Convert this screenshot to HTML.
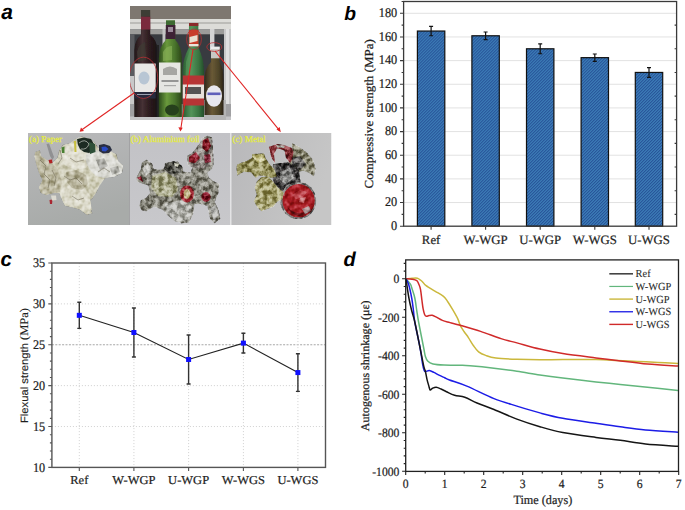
<!DOCTYPE html><html><head><meta charset="utf-8"><style>html,body{margin:0;padding:0;background:#fff;overflow:hidden}svg{display:block;text-rendering:geometricPrecision}</style></head><body>
<svg width="685" height="510" viewBox="0 0 685 510">
<defs><pattern id="hatch" patternUnits="userSpaceOnUse" width="2.12" height="2.12" patternTransform="rotate(45)"><rect width="2.12" height="2.12" fill="#3b7bb5"/><rect width="0.95" height="2.12" fill="#28559a"/></pattern></defs>
<rect width="685" height="510" fill="#fff"/>
<g id="pa">
<defs>
<filter id="tx1" x="-5%" y="-5%" width="110%" height="110%" color-interpolation-filters="sRGB">
 <feTurbulence type="fractalNoise" baseFrequency="0.22" numOctaves="3" seed="4" result="n"/>
 <feColorMatrix in="n" type="matrix" values="2.6 0 0 0 -0.8 2.6 0 0 0 -0.8 2.6 0 0 0 -0.8 0 0 0 0 1" result="g"/>
 <feBlend in="g" in2="SourceGraphic" mode="soft-light" result="b"/>
 <feComposite in="b" in2="SourceAlpha" operator="in"/>
</filter>
<filter id="tx2" x="-5%" y="-5%" width="110%" height="110%" color-interpolation-filters="sRGB">
 <feTurbulence type="fractalNoise" baseFrequency="0.2" numOctaves="2" seed="9" result="n"/>
 <feColorMatrix in="n" type="matrix" values="1.5 0 0 0 -0.25 1.5 0 0 0 -0.25 1.5 0 0 0 -0.25 0 0 0 0 1" result="g"/>
 <feBlend in="g" in2="SourceGraphic" mode="soft-light" result="b"/>
 <feComposite in="b" in2="SourceAlpha" operator="in"/>
</filter>
<linearGradient id="bgA" x1="0" y1="0" x2="0.3" y2="1"><stop offset="0" stop-color="#b9b9bb"/><stop offset="1" stop-color="#a8aba9"/></linearGradient>
<linearGradient id="bgB" x1="0" y1="0" x2="0" y2="1"><stop offset="0" stop-color="#c2c2c6"/><stop offset="1" stop-color="#c8c8cb"/></linearGradient>
<linearGradient id="bgC" x1="0" y1="0" x2="1" y2="0.3"><stop offset="0" stop-color="#b8b8ba"/><stop offset="1" stop-color="#c6c6c6"/></linearGradient>
<linearGradient id="gb1" x1="0" y1="0" x2="1" y2="0"><stop offset="0" stop-color="#201618"/><stop offset="0.35" stop-color="#463234"/><stop offset="0.6" stop-color="#301f22"/><stop offset="1" stop-color="#180f10"/></linearGradient>
<linearGradient id="gb2" x1="0" y1="0" x2="1" y2="0"><stop offset="0" stop-color="#2c4a1c"/><stop offset="0.35" stop-color="#6a9a3c"/><stop offset="0.7" stop-color="#4a742c"/><stop offset="1" stop-color="#2a4418"/></linearGradient>
<linearGradient id="gb3" x1="0" y1="0" x2="1" y2="0"><stop offset="0" stop-color="#2a5a30"/><stop offset="0.4" stop-color="#54945a"/><stop offset="0.75" stop-color="#3a7440"/><stop offset="1" stop-color="#244e2a"/></linearGradient>
<linearGradient id="gb4" x1="0" y1="0" x2="1" y2="0"><stop offset="0" stop-color="#33291a"/><stop offset="0.4" stop-color="#6a5a36"/><stop offset="0.75" stop-color="#4e4428"/><stop offset="1" stop-color="#2c2416"/></linearGradient>
<filter id="soft2" x="-5%" y="-5%" width="110%" height="110%">
 <feGaussianBlur stdDeviation="0.4"/>
</filter>
<filter id="soft" x="0" y="0" width="100%" height="100%">
 <feGaussianBlur stdDeviation="0.45"/>
</filter>
</defs>
<svg x="130" y="6" width="101" height="114" viewBox="130 6 101 114" overflow="hidden">
<g filter="url(#soft)">
<rect x="128" y="4" width="105" height="118" fill="#46484c"/>
<rect x="128" y="4" width="105" height="15.5" fill="#7e7770"/>
<rect x="128" y="19" width="105" height="10.5" fill="#dcdcd8"/>
<rect x="128" y="22" width="105" height="2" fill="#bcbcb8"/>
<rect x="128" y="29.5" width="105" height="5" fill="#9c9c9a"/>
<rect x="128" y="34.5" width="105" height="70" fill="#393b40"/>
<rect x="162.5" y="29" width="3" height="30" fill="#c4c4c4"/>
<rect x="210" y="29" width="4.4" height="22" fill="#d4d4d4"/>
<rect x="224" y="29" width="7" height="92" fill="#c8c8c8"/>
<rect x="226" y="29" width="3" height="92" fill="#e0e0e0"/>
<rect x="128" y="34" width="6.5" height="88" fill="#5a5c60"/>
<rect x="128" y="76" width="6.5" height="46" fill="#c8c8c8"/>
<rect x="128" y="104" width="105" height="18" fill="#a0a0a2"/>
<rect x="128" y="116.5" width="105" height="6" fill="#c4c4c6"/>
<rect x="204" y="100" width="22" height="20" fill="#b4b4b4"/>
<path d="M141 10 L150 10 L150.3 35 Q157 40 157.5 50 L157.5 117 L134.3 117 L134.3 50 Q134.6 40 141 35 Z" fill="url(#gb1)"/>
<path d="M137 52 Q139 44 145 42 L146 60 L138 62 Z" fill="#3e3a34" opacity="0.8"/>
<rect x="141" y="10" width="9.2" height="6.7" fill="#3c3c34"/>
<rect x="141" y="16.7" width="9.3" height="12.8" fill="#7a2c3c"/>
<rect x="134.5" y="63.5" width="21.2" height="28.5" fill="#e8e8e6"/>
<ellipse cx="144" cy="78" rx="5.5" ry="6.5" fill="#a4b8cc" opacity="0.7"/>
<rect x="134.5" y="92" width="21.2" height="6.5" fill="#262c3c"/>
<rect x="137" y="94" width="15" height="1" fill="#9aa0b0"/>
<rect x="156.5" y="45" width="2.5" height="72" fill="#222222"/>
<path d="M166 20.5 L175 20.5 L175.3 40 Q181.5 46 181.8 58 L181.8 117 L158.8 117 L158.8 58 Q159.2 46 166 40 Z" fill="url(#gb2)"/>
<rect x="166" y="20.5" width="9" height="5" fill="#3c6a30"/>
<rect x="165.8" y="25" width="9.6" height="14" fill="#3e2434"/>
<rect x="168" y="27" width="5" height="5" fill="#9a8a9a"/>
<path d="M163 52 Q167 45 172 46 L172 60 L163 61 Z" fill="#8cb45c" opacity="0.6"/>
<rect x="159" y="62.5" width="21.5" height="30" fill="#e6e6e2"/>
<path d="M163 69 Q170 64 177 69 L177 75 L163 75 Z" fill="#8a8a88" opacity="0.7"/>
<rect x="161.5" y="80" width="17" height="2" fill="#606060" opacity="0.6"/>
<rect x="164" y="85" width="12" height="1.2" fill="#808080" opacity="0.6"/>
<ellipse cx="172" cy="110" rx="7" ry="5.5" fill="#26401c"/>
<path d="M189 23 L198.3 23 L198.6 48 Q203.5 58 204 70 L204 117 L182.6 117 L182.6 70 Q183.2 58 188.7 48 Z" fill="url(#gb3)"/>
<path d="M186 62 L190 50 L192 50 L189 100 L185 100 Z" fill="#5a9a5a" opacity="0.6"/>
<rect x="189" y="23" width="9.3" height="3" fill="#8a2a2a"/>
<rect x="188.9" y="30" width="9.6" height="16.3" fill="#c83c2c"/>
<path d="M189.5 37 L197.5 35 L197.5 41 L189.5 43 Z" fill="#e8e0d0"/>
<rect x="188.9" y="44" width="9.6" height="2.3" fill="#e8e4dc"/>
<rect x="182.8" y="75.5" width="21.2" height="30" fill="#b63434"/>
<rect x="182.8" y="84.5" width="21.2" height="14" fill="#e6e0da"/>
<rect x="185" y="87" width="16" height="7" fill="#3a3a3a" opacity="0.85"/>
<path d="M211 47 L219.6 47 L219.6 62 Q223.5 68 223.5 80 L223.5 115 L204.5 115 L204.5 80 Q204.5 68 211 62 Z" fill="url(#gb4)"/>
<rect x="210.8" y="46.6" width="9" height="3.2" fill="#ececec"/>
<rect x="211" y="49.8" width="8.6" height="8.5" fill="#c8c8c4"/>
<ellipse cx="214" cy="96" rx="8" ry="10.8" fill="#e8e8ee"/>
<rect x="207.5" y="92.5" width="13" height="2.6" fill="#4848b0" opacity="0.85"/>
</g>
<ellipse cx="143.5" cy="77.8" rx="14.2" ry="20.6" fill="none" stroke="#b83034" stroke-width="0.8"/>
<ellipse cx="194" cy="39.3" rx="7.4" ry="10.3" fill="none" stroke="#b83034" stroke-width="0.8"/>
<ellipse cx="214.3" cy="47" rx="7.5" ry="4.4" fill="none" stroke="#b83034" stroke-width="0.8"/>
</svg>
<svg x="28" y="133" width="101" height="92" viewBox="28 133 101 92" overflow="hidden">
<rect x="28" y="133" width="101" height="92" fill="url(#bgA)"/>
<g filter="url(#soft2)">
<g filter="url(#tx2)">
<path d="M35.2 152.3 L39.8 150.5 L40.8 156 L46.3 159.7 L51.8 163.4 L57.4 157.8 L59.2 150.5 L62.9 144.9 L70.3 143.1 L74 139.4 L81.4 136.6 L88.7 138.5 L94.3 142.1 L98 147.7 L103.5 146.8 L109 150.5 L116.4 154.1 L118.3 161.5 L122.9 165.2 L122 172.6 L114.6 176.3 L105.3 178.1 L99.8 185.5 L96.1 192.9 L92.4 198.4 L86.9 202.1 L90.6 209.5 L92.4 213.2 L86.9 215 L79.5 209.5 L72.1 207.6 L64.7 205.8 L62 200.3 L59.2 192.9 L53.7 192.9 L46.3 194.7 L40.8 192.9 L38.9 187.4 L42.6 180 L38.9 172.6 L36.1 163.4 L34.3 156 Z" fill="#d2d0bc"/>
<path d="M35 152 L40 150.5 L41 156 L47 160 L52 163 L58 170 L62 182 L60 192 L54 193 L46 195 L41 193 L39 187 L42.6 180 L39 172.6 L36 163 Z" fill="#bcb8a0"/>
<path d="M62 150 L68 144 L76 143 L84 150 L90 152 L92 160 L86 168 L76 170 L66 166 L60 160 Z" fill="#e0ded0"/>
<path d="M86 154 L96 150 L104 152 L112 155 L118 161 L123 166 L122 173 L114 177 L104 178 L96 176 L90 170 L86 162 Z" fill="#dcdcd6"/>
<path d="M96 160 L104 158 L108 166 L100 170 Z" fill="#a8a8a2"/>
<path d="M110 168 L118 166 L120 172 L112 175 Z" fill="#b0b0aa"/>
<path d="M62 186 L72 182 L84 186 L90 196 L92 210 L88 214 L80 209 L70 206 L64 202 Z" fill="#dad8c8"/>
<path d="M66 172 L76 170 L86 175 L88 184 L82 190 L72 188 L67 182 Z" fill="#b8b49c"/>
</g>
<g stroke="#5e5844" stroke-width="0.8" fill="none" opacity="0.6">
<path d="M40 160 L46 166 L44 174 L50 180 L48 188"/>
<path d="M52 170 L56 178 L54 186"/>
<path d="M64 176 L70 180 L76 178 L82 184"/>
<path d="M70 158 L76 162 L84 160"/>
<path d="M72 196 L78 200 L84 198"/>
<path d="M98 172 L104 168 L110 172"/>
<path d="M60 150 L62 158 L58 164"/>
</g>
<path d="M77 139 L84 137.5 L91 139 L94 144 L93 151 L89 153 L84 152 L80 149 L78 145 Z" fill="#1e2c24"/>
<path d="M89 142 L95 144 L95.5 152 L90 154 Z" fill="#2e5038"/>
<path d="M79 143 Q85 138 89 144 Q87 150 81 149" stroke="#c8ccc4" stroke-width="0.7" fill="none"/>
<path d="M74 141 L76 141 L76.5 152 L74.5 152 Z" fill="#c8c040"/>
<path d="M61.5 147.5 L64.5 146.5 L64.5 153 L62 153 Z" fill="#4a8030"/>
<path d="M99 145 L104 144 L110 146 L112 150 L109 153 L103 153.5 L99 151 Z" fill="#2a2e40"/>
<path d="M101.5 147 L105.5 146.5 L108.5 149 L105.5 151.5 L102 151 Z" fill="#2c4cc4"/>
<path d="M46.5 144 L49 143.5 L54 157 L52.5 160 L50 156 Z" fill="#8c8c8e" opacity="0.9"/>
<path d="M48.5 160 L52 159.5 L52.5 163 L49.5 163.5 Z" fill="#b02024"/>
<path d="M49.5 200 L52.5 199.5 L52 204 L50 204 Z" fill="#a82830"/>
<path d="M51 195.5 L56 195.5 L56.5 200 L52 200.5 Z" fill="#dcdad0"/>
</g>
<text x="29" y="141.6" style="font-family:'Liberation Serif',serif;font-size:9.1px" fill="#e6ec3c" stroke="#e6ec3c" stroke-width="0.25">(a) Paper</text>
</svg>
<svg x="129" y="133" width="101.5" height="92" viewBox="129 133 101.5 92" overflow="hidden">
<rect x="129" y="133" width="101.5" height="92" fill="url(#bgB)"/>
<rect x="129" y="133" width="0.8" height="92" fill="#9a9a9c"/>
<g filter="url(#soft2)">
<g filter="url(#tx1)">
<path d="M136.3 178.1 L140.9 168.9 L141.8 162.4 L146.5 159.7 L152 163.4 L153.8 168.9 L161.2 169.8 L166.7 166.1 L170.4 162.4 L177.8 161.5 L182.4 167.1 L183.4 171.7 L190.7 172.6 L192.6 167.1 L188 161.5 L187 156 L193.5 152.3 L200 143.1 L201.8 138.5 L207.3 135.7 L212 137.5 L212.9 146.8 L213.8 163.4 L212 168.9 L207.3 172.6 L209.2 178.1 L214.7 181.8 L219.3 183.7 L218.4 192.9 L214.7 202.1 L218.4 209.5 L220.3 218.7 L214.7 223.3 L210.1 218.7 L207.3 205.8 L200.9 204 L194.4 204 L193.5 213.2 L188.9 222.4 L181.5 223.3 L174.1 220.6 L168.6 215 L162.1 209.5 L153.8 206.7 L146.5 211.3 L141.8 210.4 L139.1 205.8 L140.9 200.3 L146.5 197.5 L150.1 192.9 L148.3 185.5 L142.8 183.7 L137.2 181.8 Z" fill="#8a897e"/>
<path d="M152 176 L165 172 L176 178 L178 190 L172 197 L158 196 L151 188 Z" fill="#a6a686"/>
<path d="M165 163 L174 161 L182 166 L181 173 L170 174 L164 169 Z" fill="#46463f"/><path d="M174 163 L179 164 L178 167 L175 166 Z" fill="#d0d0c0"/>
<path d="M187 158 L194 151 L201 142 L207 137 L212 140 L213 156 L211 165 L203 169 L194 168 L188 165 Z" fill="#86807a"/><path d="M189 157 L196 152 L200 158 L195 163 L189 162 Z" fill="#8c1e2a"/><path d="M203 140 L208 138 L211 146 L207 152 L202 148 Z" fill="#8c1e2a"/><path d="M204 155 L210 154 L211 162 L205 163 Z" fill="#7a2030"/>
<path d="M197 146 L202 144 L203 150 L199 151 Z" fill="#b0aea8"/>
<ellipse cx="187" cy="194" rx="7" ry="8.5" fill="#a02a34"/>
<ellipse cx="187" cy="194" rx="3.5" ry="5" fill="#b8a878"/>
<ellipse cx="206" cy="197" rx="4.5" ry="5" fill="#8c2030"/>
<path d="M165 204 L180 200 L192 206 L190 220 L176 222 L166 214 Z" fill="#b2b2ac"/>
<path d="M142 168 L148 163 L152 170 L146 176 Z" fill="#c4c4c0"/>
<path d="M137 178 L141 176 L143 182 Z" fill="#902838"/>
<path d="M210 208 L216 205 L219 214 L214 222 Z" fill="#a6a6a2"/>
</g>
</g>
<text x="130.4" y="141.6" style="font-family:'Liberation Serif',serif;font-size:9.1px" fill="#e6ec3c" stroke="#e6ec3c" stroke-width="0.25">(b) Aluminium foil</text>
</svg>
<svg x="230.5" y="133" width="101" height="92" viewBox="230.5 133 101 92" overflow="hidden">
<rect x="230.5" y="133" width="101" height="92" fill="url(#bgC)"/>
<rect x="230.5" y="133" width="1" height="92" fill="#e4e4e6"/>
<g filter="url(#soft2)">
<g filter="url(#tx1)">
<path d="M291.7 143.1 L299.1 146.8 L306.5 152.3 L312.9 159.7 L315.7 168.9 L313.9 176.3 L308.3 172.6 L302.8 170.7 L297.3 172.6 L289.9 167.1 L288 159.7 L292.7 154.1 Z" fill="#8c8a74"/>
<path d="M292 158 L300 156 L306 164 L300 170 L292 166 Z" fill="#5c5a58"/>
<path d="M268.7 146.8 L277 144 L284.4 144.9 L291.7 147.7 L293.6 152.3 L292 160 L289.9 163 L286 158 L284.4 150.5 L277 148.6 L274.2 154.1 L275.1 163.4 L271.4 157.8 Z" fill="#7e2a2e"/>
<path d="M276 145 L285 145.5 L284 148 L277 147.5 Z" fill="#b0b0a8"/>
<path d="M273 164 L288 162 L299 170 L301 184 L296 194 L283 196 L275 188 L272 176 Z" fill="#403e3e"/>
<path d="M280 172 L290 168 L294 178 L286 184 L280 180 Z" fill="#8a8a88"/>
<ellipse cx="298.2" cy="200.5" rx="18" ry="18.6" fill="#7e7c7a"/>
<path d="M236.4 167.1 L237.3 164.3 L241.9 162.4 L247.5 160.6 L252.1 157.8 L252.1 154.1 L264.1 153.2 L265.9 158.8 L270.5 165.2 L274.2 168.9 L277 176.3 L271.4 178.1 L265.9 176.3 L259.4 175.4 L255.8 178.1 L251.1 172.6 L243.8 171.7 L237.3 175.4 Z" fill="#98945e"/>
<path d="M256.7 181.8 L261.3 177.2 L267.7 176.3 L273.3 181.8 L277.9 187.4 L284.4 192.9 L283.4 198.4 L277 202.1 L273.3 206.7 L265.9 209.5 L261.3 211.3 L257.6 207.6 L253.9 201.2 L256.7 194.7 L254.8 187.4 Z" fill="#a29e6a"/>
<path d="M252 156 L262 154 L266 160 L258 163 Z" fill="#c8c490"/>
</g>
<g filter="url(#tx2)">
<ellipse cx="298.6" cy="200.8" rx="16.3" ry="16.8" fill="#a61c22"/>
<path d="M287 206 Q290 214 298 216 Q308 216 313 208 Q306 213 298 213 Q291 212 287 206 Z" fill="#5a0e12" opacity="0.8"/>
<path d="M292 195 L300 190 L307 192 L303 197 L296 199 Z" fill="#c85a62" opacity="0.75"/>
<path d="M300 198 L306 197 L304 203 L299 202 Z" fill="#e0b0b0" opacity="0.6"/>
<path d="M302 209 L309 206 L311 211 L305 214 Z" fill="#a8a4a4" opacity="0.8"/>
</g>
<path d="M284 196 Q283 186 290 184" stroke="#b8b4b4" stroke-width="0.8" fill="none" opacity="0.8"/>
</g>
<text x="232.3" y="141.6" style="font-family:'Liberation Serif',serif;font-size:9.1px" fill="#e6ec3c" stroke="#e6ec3c" stroke-width="0.25">(c) Metal</text>
</svg>
<g stroke="#e02424" stroke-width="1.1" fill="#e02424">
<line x1="134" y1="93" x2="81.2" y2="130.3"/>
<path d="M79.6 131.8 L81 127.4 L84 131 Z" stroke="none"/>
<line x1="193" y1="49.5" x2="180.7" y2="129.5"/>
<path d="M180.4 131.6 L178.4 127.2 L182.7 127.8 Z" stroke="none"/>
<line x1="215" y1="51" x2="279.4" y2="130.3"/>
<path d="M280.9 132.3 L276.5 129.5 L279.6 127 Z" stroke="none"/>
</g>
</g>
<g id="pb">
<line x1="403.6" y1="202.54" x2="676.6" y2="202.54" stroke="#e2e2e2" stroke-width="1"/>
<line x1="403.6" y1="178.89" x2="676.6" y2="178.89" stroke="#e2e2e2" stroke-width="1"/>
<line x1="403.6" y1="155.23" x2="676.6" y2="155.23" stroke="#e2e2e2" stroke-width="1"/>
<line x1="403.6" y1="131.58" x2="676.6" y2="131.58" stroke="#e2e2e2" stroke-width="1"/>
<line x1="403.6" y1="107.92" x2="676.6" y2="107.92" stroke="#e2e2e2" stroke-width="1"/>
<line x1="403.6" y1="84.27" x2="676.6" y2="84.27" stroke="#e2e2e2" stroke-width="1"/>
<line x1="403.6" y1="60.61" x2="676.6" y2="60.61" stroke="#e2e2e2" stroke-width="1"/>
<line x1="403.6" y1="36.96" x2="676.6" y2="36.96" stroke="#e2e2e2" stroke-width="1"/>
<line x1="403.6" y1="13.30" x2="676.6" y2="13.30" stroke="#e2e2e2" stroke-width="1"/>
<rect x="417.40" y="31.04" width="27.4" height="195.16" fill="url(#hatch)" stroke="#111" stroke-width="1.2"/>
<rect x="471.90" y="35.77" width="27.4" height="190.43" fill="url(#hatch)" stroke="#111" stroke-width="1.2"/>
<rect x="526.50" y="48.78" width="27.4" height="177.42" fill="url(#hatch)" stroke="#111" stroke-width="1.2"/>
<rect x="581.10" y="57.65" width="27.4" height="168.55" fill="url(#hatch)" stroke="#111" stroke-width="1.2"/>
<rect x="635.30" y="72.44" width="27.4" height="153.76" fill="url(#hatch)" stroke="#111" stroke-width="1.2"/>
<path d="M431.10 26.31V35.77M429.10 26.31H433.10M429.10 35.77H433.10" stroke="#111" stroke-width="1.2" fill="none"/>
<path d="M485.60 31.99V39.56M483.60 31.99H487.60M483.60 39.56H487.60" stroke="#111" stroke-width="1.2" fill="none"/>
<path d="M540.20 43.82V53.75M538.20 43.82H542.20M538.20 53.75H542.20" stroke="#111" stroke-width="1.2" fill="none"/>
<path d="M594.80 53.99V61.32M592.80 53.99H596.80M592.80 61.32H596.80" stroke="#111" stroke-width="1.2" fill="none"/>
<path d="M649.00 67.59V77.29M647.00 67.59H651.00M647.00 77.29H651.00" stroke="#111" stroke-width="1.2" fill="none"/>
<rect x="403.6" y="1.5" width="273.00" height="224.70" fill="none" stroke="#3a3a3a" stroke-width="1.3"/>
<path d="M400.00 226.20H403.6M401.60 214.37H403.6M400.00 202.54H403.6M401.60 190.72H403.6M400.00 178.89H403.6M401.60 167.06H403.6M400.00 155.23H403.6M401.60 143.41H403.6M400.00 131.58H403.6M401.60 119.75H403.6M400.00 107.92H403.6M401.60 96.09H403.6M400.00 84.27H403.6M401.60 72.44H403.6M400.00 60.61H403.6M401.60 48.78H403.6M400.00 36.96H403.6M401.60 25.13H403.6M400.00 13.30H403.6M401.60 1.47H403.6M674.60 214.37H676.6M674.60 190.72H676.6M674.60 167.06H676.6M674.60 143.41H676.6M674.60 119.75H676.6M674.60 96.09H676.6M674.60 72.44H676.6M674.60 48.78H676.6M674.60 25.13H676.6M674.60 1.47H676.6M431.10 226.2V229.80M485.60 226.2V229.80M540.20 226.2V229.80M594.80 226.2V229.80M649.00 226.2V229.80" stroke="#3a3a3a" stroke-width="1.1" fill="none"/>
<text transform="matrix(1 0 0 1.08 397.20 229.95)" text-anchor="end" style="font-family:'Liberation Serif',serif;font-size:12.3px" fill="#1e1e1e" stroke="#1e1e1e" stroke-width="0.22">0</text>
<text transform="matrix(1 0 0 1.08 397.20 206.29)" text-anchor="end" style="font-family:'Liberation Serif',serif;font-size:12.3px" fill="#1e1e1e" stroke="#1e1e1e" stroke-width="0.22">20</text>
<text transform="matrix(1 0 0 1.08 397.20 182.64)" text-anchor="end" style="font-family:'Liberation Serif',serif;font-size:12.3px" fill="#1e1e1e" stroke="#1e1e1e" stroke-width="0.22">40</text>
<text transform="matrix(1 0 0 1.08 397.20 158.98)" text-anchor="end" style="font-family:'Liberation Serif',serif;font-size:12.3px" fill="#1e1e1e" stroke="#1e1e1e" stroke-width="0.22">60</text>
<text transform="matrix(1 0 0 1.08 397.20 135.33)" text-anchor="end" style="font-family:'Liberation Serif',serif;font-size:12.3px" fill="#1e1e1e" stroke="#1e1e1e" stroke-width="0.22">80</text>
<text transform="matrix(1 0 0 1.08 397.20 111.67)" text-anchor="end" style="font-family:'Liberation Serif',serif;font-size:12.3px" fill="#1e1e1e" stroke="#1e1e1e" stroke-width="0.22">100</text>
<text transform="matrix(1 0 0 1.08 397.20 88.02)" text-anchor="end" style="font-family:'Liberation Serif',serif;font-size:12.3px" fill="#1e1e1e" stroke="#1e1e1e" stroke-width="0.22">120</text>
<text transform="matrix(1 0 0 1.08 397.20 64.36)" text-anchor="end" style="font-family:'Liberation Serif',serif;font-size:12.3px" fill="#1e1e1e" stroke="#1e1e1e" stroke-width="0.22">140</text>
<text transform="matrix(1 0 0 1.08 397.20 40.71)" text-anchor="end" style="font-family:'Liberation Serif',serif;font-size:12.3px" fill="#1e1e1e" stroke="#1e1e1e" stroke-width="0.22">160</text>
<text transform="matrix(1 0 0 1.08 397.20 17.05)" text-anchor="end" style="font-family:'Liberation Serif',serif;font-size:12.3px" fill="#1e1e1e" stroke="#1e1e1e" stroke-width="0.22">180</text>
<text transform="matrix(1 0 0 1.0 431.10 243.50)" text-anchor="middle" style="font-family:'Liberation Serif',serif;font-size:12.8px" fill="#1e1e1e" stroke="#1e1e1e" stroke-width="0.22">Ref</text>
<text transform="matrix(1 0 0 1.0 485.60 243.50)" text-anchor="middle" style="font-family:'Liberation Serif',serif;font-size:12.8px" fill="#1e1e1e" stroke="#1e1e1e" stroke-width="0.22">W-WGP</text>
<text transform="matrix(1 0 0 1.0 540.20 243.50)" text-anchor="middle" style="font-family:'Liberation Serif',serif;font-size:12.8px" fill="#1e1e1e" stroke="#1e1e1e" stroke-width="0.22">U-WGP</text>
<text transform="matrix(1 0 0 1.0 594.80 243.50)" text-anchor="middle" style="font-family:'Liberation Serif',serif;font-size:12.8px" fill="#1e1e1e" stroke="#1e1e1e" stroke-width="0.22">W-WGS</text>
<text transform="matrix(1 0 0 1.0 649.00 243.50)" text-anchor="middle" style="font-family:'Liberation Serif',serif;font-size:12.8px" fill="#1e1e1e" stroke="#1e1e1e" stroke-width="0.22">U-WGS</text>
<text transform="translate(373.4 113.9) rotate(-90) scale(1.065 1)" text-anchor="middle" style="font-family:'Liberation Serif',serif;font-size:12.2px" fill="#1e1e1e" stroke="#1e1e1e" stroke-width="0.25">Compressive strength (MPa)</text>
</g>
<g id="pc">
<line x1="51.9" y1="426.52" x2="325.5" y2="426.52" stroke="#cdcdcd" stroke-width="0.85" stroke-dasharray="1.1 1.9"/>
<line x1="51.9" y1="385.64" x2="325.5" y2="385.64" stroke="#cdcdcd" stroke-width="0.85" stroke-dasharray="1.1 1.9"/>
<line x1="51.9" y1="344.76" x2="325.5" y2="344.76" stroke="#9c9c9c" stroke-width="0.9" stroke-dasharray="2 1.4"/>
<line x1="51.9" y1="303.88" x2="325.5" y2="303.88" stroke="#cdcdcd" stroke-width="0.85" stroke-dasharray="1.1 1.9"/>
<line x1="79.3" y1="263.0" x2="79.3" y2="467.4" stroke="#cdcdcd" stroke-width="0.85" stroke-dasharray="1.1 1.9"/>
<line x1="133.9" y1="263.0" x2="133.9" y2="467.4" stroke="#cdcdcd" stroke-width="0.85" stroke-dasharray="1.1 1.9"/>
<line x1="188.6" y1="263.0" x2="188.6" y2="467.4" stroke="#cdcdcd" stroke-width="0.85" stroke-dasharray="1.1 1.9"/>
<line x1="243.4" y1="263.0" x2="243.4" y2="467.4" stroke="#cdcdcd" stroke-width="0.85" stroke-dasharray="1.1 1.9"/>
<line x1="297.9" y1="263.0" x2="297.9" y2="467.4" stroke="#cdcdcd" stroke-width="0.85" stroke-dasharray="1.1 1.9"/>
<path d="M79.3 302.24V328.41M77.30 302.24H81.30M77.30 328.41H81.30M133.9 307.97V357.02M131.90 307.97H135.90M131.90 357.02H135.90M188.6 334.95V384.00M186.60 334.95H190.60M186.60 384.00H190.60M243.4 333.31V352.94M241.40 333.31H245.40M241.40 352.94H245.40M297.9 353.75V391.36M295.90 353.75H299.90M295.90 391.36H299.90" stroke="#333" stroke-width="1.4" fill="none"/>
<polyline points="79.3,315.33 133.9,332.50 188.6,359.48 243.4,343.12 297.9,372.56" fill="none" stroke="#222" stroke-width="1.1"/>
<rect x="76.80" y="312.83" width="5" height="5" fill="#1010ff"/>
<rect x="131.40" y="330.00" width="5" height="5" fill="#1010ff"/>
<rect x="186.10" y="356.98" width="5" height="5" fill="#1010ff"/>
<rect x="240.90" y="340.62" width="5" height="5" fill="#1010ff"/>
<rect x="295.40" y="370.06" width="5" height="5" fill="#1010ff"/>
<rect x="51.9" y="263.0" width="273.60" height="204.40" fill="none" stroke="#555" stroke-width="1.4"/>
<path d="M48.30 467.40H51.9M49.90 459.22H51.9M49.90 451.05H51.9M49.90 442.87H51.9M49.90 434.70H51.9M48.30 426.52H51.9M49.90 418.34H51.9M49.90 410.17H51.9M49.90 401.99H51.9M49.90 393.82H51.9M48.30 385.64H51.9M49.90 377.46H51.9M49.90 369.29H51.9M49.90 361.11H51.9M49.90 352.94H51.9M48.30 344.76H51.9M49.90 336.58H51.9M49.90 328.41H51.9M49.90 320.23H51.9M49.90 312.06H51.9M48.30 303.88H51.9M49.90 295.70H51.9M49.90 287.53H51.9M49.90 279.35H51.9M49.90 271.18H51.9M48.30 263.00H51.9M79.3 467.4V471.00M133.9 467.4V471.00M188.6 467.4V471.00M243.4 467.4V471.00M297.9 467.4V471.00" stroke="#555" stroke-width="1.1" fill="none"/>
<text transform="matrix(1 0 0 1.08 45.20 471.50)" text-anchor="end" style="font-family:'Liberation Serif',serif;font-size:12.2px" fill="#1e1e1e" stroke="#1e1e1e" stroke-width="0.22">10</text>
<text transform="matrix(1 0 0 1.08 45.20 430.62)" text-anchor="end" style="font-family:'Liberation Serif',serif;font-size:12.2px" fill="#1e1e1e" stroke="#1e1e1e" stroke-width="0.22">15</text>
<text transform="matrix(1 0 0 1.08 45.20 389.74)" text-anchor="end" style="font-family:'Liberation Serif',serif;font-size:12.2px" fill="#1e1e1e" stroke="#1e1e1e" stroke-width="0.22">20</text>
<text transform="matrix(1 0 0 1.08 45.20 348.86)" text-anchor="end" style="font-family:'Liberation Serif',serif;font-size:12.2px" fill="#1e1e1e" stroke="#1e1e1e" stroke-width="0.22">25</text>
<text transform="matrix(1 0 0 1.08 45.20 307.98)" text-anchor="end" style="font-family:'Liberation Serif',serif;font-size:12.2px" fill="#1e1e1e" stroke="#1e1e1e" stroke-width="0.22">30</text>
<text transform="matrix(1 0 0 1.08 45.20 267.10)" text-anchor="end" style="font-family:'Liberation Serif',serif;font-size:12.2px" fill="#1e1e1e" stroke="#1e1e1e" stroke-width="0.22">35</text>
<text transform="matrix(1 0 0 0.97 79.30 483.70)" text-anchor="middle" style="font-family:'Liberation Serif',serif;font-size:12.5px" fill="#1e1e1e" stroke="#1e1e1e" stroke-width="0.22">Ref</text>
<text transform="matrix(1 0 0 0.97 133.90 483.70)" text-anchor="middle" style="font-family:'Liberation Serif',serif;font-size:12.5px" fill="#1e1e1e" stroke="#1e1e1e" stroke-width="0.22">W-WGP</text>
<text transform="matrix(1 0 0 0.97 188.60 483.70)" text-anchor="middle" style="font-family:'Liberation Serif',serif;font-size:12.5px" fill="#1e1e1e" stroke="#1e1e1e" stroke-width="0.22">U-WGP</text>
<text transform="matrix(1 0 0 0.97 243.40 483.70)" text-anchor="middle" style="font-family:'Liberation Serif',serif;font-size:12.5px" fill="#1e1e1e" stroke="#1e1e1e" stroke-width="0.22">W-WGS</text>
<text transform="matrix(1 0 0 0.97 297.90 483.70)" text-anchor="middle" style="font-family:'Liberation Serif',serif;font-size:12.5px" fill="#1e1e1e" stroke="#1e1e1e" stroke-width="0.22">U-WGS</text>
<text transform="translate(27.9 365.5) rotate(-90) scale(1.06 1)" text-anchor="middle" fill="#1e1e1e" stroke="#1e1e1e" stroke-width="0.15"><tspan style="font-family:'Liberation Sans',sans-serif;font-size:10.6px">Flexual strength </tspan><tspan style="font-family:'Liberation Serif',serif;font-size:11.8px">(MPa)</tspan></text>
</g>
<g id="pd">
<path d="M406.00 278.80C407.00 278.72 410.12 278.40 412.00 278.30C413.88 278.20 415.97 277.95 417.30 278.20C418.63 278.45 419.15 279.22 420.00 279.80C420.85 280.38 421.38 280.72 422.40 281.70C423.42 282.68 423.95 284.10 426.10 285.70C428.25 287.30 432.40 289.52 435.30 291.30C438.20 293.08 441.45 294.70 443.50 296.40C445.55 298.10 446.07 299.28 447.60 301.50C449.13 303.72 451.00 306.80 452.70 309.70C454.40 312.60 456.55 316.30 457.80 318.90C459.05 321.50 459.17 323.20 460.20 325.30C461.23 327.40 462.63 329.45 464.00 331.50C465.37 333.55 466.82 335.23 468.40 337.60C469.98 339.97 471.80 343.33 473.50 345.70C475.20 348.07 476.57 350.18 478.60 351.80C480.63 353.42 482.82 354.37 485.70 355.40C488.58 356.43 490.70 357.35 495.90 358.00C501.10 358.65 509.57 359.00 516.90 359.30C524.23 359.60 532.25 359.77 539.90 359.80C547.55 359.83 553.45 359.53 562.80 359.50C572.15 359.47 586.97 359.45 596.00 359.60C605.03 359.75 610.10 360.10 617.00 360.40C623.90 360.70 630.57 361.07 637.40 361.40C644.23 361.73 651.23 362.05 658.00 362.40C664.77 362.75 674.67 363.32 678.00 363.50" fill="none" stroke="#cbb83c" stroke-width="1.5" stroke-linejoin="round"/>
<path d="M406.00 279.00C406.73 279.87 409.37 282.48 410.40 284.20C411.43 285.92 411.47 287.00 412.20 289.30C412.93 291.60 414.03 294.42 414.80 298.00C415.57 301.58 416.17 306.80 416.80 310.80C417.43 314.80 417.45 315.80 418.60 322.00C419.75 328.20 422.58 342.30 423.70 348.00C424.82 353.70 424.60 353.98 425.30 356.20C426.00 358.42 426.62 360.02 427.90 361.30C429.18 362.58 430.32 363.28 433.00 363.90C435.68 364.52 439.50 364.77 444.00 365.00C448.50 365.23 455.67 365.17 460.00 365.30C464.33 365.43 464.33 365.32 470.00 365.80C475.67 366.28 486.18 367.30 494.00 368.20C501.82 369.10 509.25 370.07 516.90 371.20C524.55 372.33 532.25 373.85 539.90 375.00C547.55 376.15 553.45 376.95 562.80 378.10C572.15 379.25 586.42 380.83 596.00 381.90C605.58 382.97 611.30 383.57 620.30 384.50C629.30 385.43 640.38 386.52 650.00 387.50C659.62 388.48 673.33 389.92 678.00 390.40" fill="none" stroke="#62b67c" stroke-width="1.5" stroke-linejoin="round"/>
<path d="M406.00 278.80C407.00 278.87 410.20 278.90 412.00 279.20C413.80 279.50 415.67 279.77 416.80 280.60C417.93 281.43 418.18 282.75 418.80 284.20C419.42 285.65 419.98 286.67 420.50 289.30C421.02 291.93 421.47 296.77 421.90 300.00C422.33 303.23 422.65 306.28 423.10 308.70C423.55 311.12 424.07 313.23 424.60 314.50C425.13 315.77 425.57 316.12 426.30 316.30C427.03 316.48 428.02 315.77 429.00 315.60C429.98 315.43 431.03 315.08 432.20 315.30C433.37 315.52 434.30 316.05 436.00 316.90C437.70 317.75 440.07 319.45 442.40 320.40C444.73 321.35 447.03 321.78 450.00 322.60C452.97 323.42 455.10 323.83 460.20 325.30C465.30 326.77 473.80 329.18 480.60 331.40C487.40 333.62 494.95 336.68 501.00 338.60C507.05 340.52 510.42 341.15 516.90 342.90C523.38 344.65 532.25 347.32 539.90 349.10C547.55 350.88 553.45 352.13 562.80 353.60C572.15 355.07 586.97 356.77 596.00 357.90C605.03 359.03 608.40 359.38 617.00 360.40C625.60 361.42 637.43 363.05 647.60 364.00C657.77 364.95 672.93 365.75 678.00 366.10" fill="none" stroke="#d02a2a" stroke-width="1.5" stroke-linejoin="round"/>
<path d="M406.00 279.00C406.43 279.87 407.65 281.03 408.60 284.20C409.55 287.37 410.88 293.57 411.70 298.00C412.52 302.43 412.98 306.80 413.50 310.80C414.02 314.80 413.70 315.80 414.80 322.00C415.90 328.20 418.80 341.00 420.10 348.00C421.40 355.00 421.92 360.25 422.60 364.00C423.28 367.75 423.70 369.23 424.20 370.50C424.70 371.77 424.75 371.58 425.60 371.60C426.45 371.62 427.92 370.47 429.30 370.60C430.68 370.73 432.28 371.63 433.90 372.40C435.52 373.17 437.22 374.30 439.00 375.20C440.78 376.10 442.85 377.00 444.60 377.80C446.35 378.60 445.80 378.62 449.50 380.00C453.20 381.38 459.38 383.00 466.80 386.10C474.22 389.20 485.65 395.27 494.00 398.60C502.35 401.93 509.25 403.72 516.90 406.10C524.55 408.48 532.25 410.87 539.90 412.90C547.55 414.93 553.45 416.57 562.80 418.30C572.15 420.03 586.42 421.88 596.00 423.30C605.58 424.72 612.05 425.70 620.30 426.80C628.55 427.90 635.88 429.00 645.50 429.90C655.12 430.80 672.58 431.82 678.00 432.20" fill="none" stroke="#1c1ce6" stroke-width="1.5" stroke-linejoin="round"/>
<path d="M406.00 279.00C406.48 282.17 407.95 292.70 408.90 298.00C409.85 303.30 410.72 306.80 411.70 310.80C412.68 314.80 413.40 315.80 414.80 322.00C416.20 328.20 418.60 340.60 420.10 348.00C421.60 355.40 422.93 362.57 423.80 366.40C424.67 370.23 424.77 368.85 425.30 371.00C425.83 373.15 426.42 376.82 427.00 379.30C427.58 381.78 428.27 384.12 428.80 385.90C429.33 387.68 429.58 389.60 430.20 390.00C430.82 390.40 431.50 388.75 432.50 388.30C433.50 387.85 434.78 387.18 436.20 387.30C437.62 387.42 439.30 388.27 441.00 389.00C442.70 389.73 444.13 390.65 446.40 391.70C448.67 392.75 451.53 394.37 454.60 395.30C457.67 396.23 461.07 396.02 464.80 397.30C468.53 398.58 472.13 400.97 477.00 403.00C481.87 405.03 487.35 406.82 494.00 409.50C500.65 412.18 509.25 416.23 516.90 419.10C524.55 421.97 532.25 424.47 539.90 426.70C547.55 428.93 553.45 430.72 562.80 432.50C572.15 434.28 586.42 436.10 596.00 437.40C605.58 438.70 612.05 439.20 620.30 440.30C628.55 441.40 635.88 443.00 645.50 444.00C655.12 445.00 672.58 445.92 678.00 446.30" fill="none" stroke="#151515" stroke-width="1.5" stroke-linejoin="round"/>
<rect x="405.7" y="259.9" width="272.80" height="211.50" fill="none" stroke="#222" stroke-width="1.3"/>
<path d="M403.70 263.40H405.7M403.70 271.10H405.7M402.10 278.80H405.7M403.70 286.50H405.7M403.70 294.20H405.7M403.70 301.90H405.7M403.70 309.60H405.7M402.10 317.30H405.7M403.70 325.00H405.7M403.70 332.70H405.7M403.70 340.40H405.7M403.70 348.10H405.7M402.10 355.80H405.7M403.70 363.50H405.7M403.70 371.20H405.7M403.70 378.90H405.7M403.70 386.60H405.7M402.10 394.30H405.7M403.70 402.00H405.7M403.70 409.70H405.7M403.70 417.40H405.7M403.70 425.10H405.7M402.10 432.80H405.7M403.70 440.50H405.7M403.70 448.20H405.7M403.70 455.90H405.7M403.70 463.60H405.7M402.10 471.30H405.7M405.70 471.4V475.00M425.20 471.4V473.40M444.70 471.4V475.00M464.20 471.4V473.40M483.70 471.4V475.00M503.20 471.4V473.40M522.70 471.4V475.00M542.20 471.4V473.40M561.70 471.4V475.00M581.20 471.4V473.40M600.70 471.4V475.00M620.20 471.4V473.40M639.70 471.4V475.00M659.20 471.4V473.40M678.70 471.4V475.00" stroke="#222" stroke-width="1.1" fill="none"/>
<text transform="matrix(1 0 0 1.09 399.30 283.10)" text-anchor="end" style="font-family:'Liberation Serif',serif;font-size:11.6px" fill="#1e1e1e" stroke="#1e1e1e" stroke-width="0.22">0</text>
<text transform="matrix(1 0 0 1.09 399.30 321.60)" text-anchor="end" style="font-family:'Liberation Serif',serif;font-size:11.6px" fill="#1e1e1e" stroke="#1e1e1e" stroke-width="0.22">-200</text>
<text transform="matrix(1 0 0 1.09 399.30 360.10)" text-anchor="end" style="font-family:'Liberation Serif',serif;font-size:11.6px" fill="#1e1e1e" stroke="#1e1e1e" stroke-width="0.22">-400</text>
<text transform="matrix(1 0 0 1.09 399.30 398.60)" text-anchor="end" style="font-family:'Liberation Serif',serif;font-size:11.6px" fill="#1e1e1e" stroke="#1e1e1e" stroke-width="0.22">-600</text>
<text transform="matrix(1 0 0 1.09 399.30 437.10)" text-anchor="end" style="font-family:'Liberation Serif',serif;font-size:11.6px" fill="#1e1e1e" stroke="#1e1e1e" stroke-width="0.22">-800</text>
<text transform="matrix(1 0 0 1.09 399.30 475.60)" text-anchor="end" style="font-family:'Liberation Serif',serif;font-size:11.6px" fill="#1e1e1e" stroke="#1e1e1e" stroke-width="0.22">-1000</text>
<text transform="matrix(1 0 0 1.09 405.70 487.80)" text-anchor="middle" style="font-family:'Liberation Serif',serif;font-size:11.6px" fill="#1e1e1e" stroke="#1e1e1e" stroke-width="0.22">0</text>
<text transform="matrix(1 0 0 1.09 444.70 487.80)" text-anchor="middle" style="font-family:'Liberation Serif',serif;font-size:11.6px" fill="#1e1e1e" stroke="#1e1e1e" stroke-width="0.22">1</text>
<text transform="matrix(1 0 0 1.09 483.70 487.80)" text-anchor="middle" style="font-family:'Liberation Serif',serif;font-size:11.6px" fill="#1e1e1e" stroke="#1e1e1e" stroke-width="0.22">2</text>
<text transform="matrix(1 0 0 1.09 522.70 487.80)" text-anchor="middle" style="font-family:'Liberation Serif',serif;font-size:11.6px" fill="#1e1e1e" stroke="#1e1e1e" stroke-width="0.22">3</text>
<text transform="matrix(1 0 0 1.09 561.70 487.80)" text-anchor="middle" style="font-family:'Liberation Serif',serif;font-size:11.6px" fill="#1e1e1e" stroke="#1e1e1e" stroke-width="0.22">4</text>
<text transform="matrix(1 0 0 1.09 600.70 487.80)" text-anchor="middle" style="font-family:'Liberation Serif',serif;font-size:11.6px" fill="#1e1e1e" stroke="#1e1e1e" stroke-width="0.22">5</text>
<text transform="matrix(1 0 0 1.09 639.70 487.80)" text-anchor="middle" style="font-family:'Liberation Serif',serif;font-size:11.6px" fill="#1e1e1e" stroke="#1e1e1e" stroke-width="0.22">6</text>
<text transform="matrix(1 0 0 1.09 678.70 487.80)" text-anchor="middle" style="font-family:'Liberation Serif',serif;font-size:11.6px" fill="#1e1e1e" stroke="#1e1e1e" stroke-width="0.22">7</text>
<text transform="matrix(1 0 0 1.04 542.80 503.60)" text-anchor="middle" style="font-family:'Liberation Serif',serif;font-size:12.2px" fill="#1e1e1e" stroke="#1e1e1e" stroke-width="0.22">Time (days)</text>
<text transform="translate(368.6 365.8) rotate(-90) scale(1.04 1)" text-anchor="middle" style="font-family:'Liberation Serif',serif;font-size:11.6px" fill="#1e1e1e" stroke="#1e1e1e" stroke-width="0.25">Autogenous shrinkage (με)</text>
<line x1="609.3" y1="273.80" x2="633" y2="273.80" stroke="#444" stroke-width="1.6"/>
<text transform="matrix(1 0 0 1.04 635.60 277.30)" style="font-family:'Liberation Serif',serif;font-size:10.4px" fill="#2a2a2a" stroke="#2a2a2a" stroke-width="0.08">Ref</text>
<line x1="609.3" y1="286.45" x2="633" y2="286.45" stroke="#62b67c" stroke-width="1.2"/>
<text transform="matrix(1 0 0 1.04 635.60 289.95)" style="font-family:'Liberation Serif',serif;font-size:10.4px" fill="#2a2a2a" stroke="#2a2a2a" stroke-width="0.08">W-WGP</text>
<line x1="609.3" y1="299.10" x2="633" y2="299.10" stroke="#cbb83c" stroke-width="1.4"/>
<text transform="matrix(1 0 0 1.04 635.60 302.60)" style="font-family:'Liberation Serif',serif;font-size:10.4px" fill="#2a2a2a" stroke="#2a2a2a" stroke-width="0.08">U-WGP</text>
<line x1="609.3" y1="311.75" x2="633" y2="311.75" stroke="#2a2ae6" stroke-width="1.4"/>
<text transform="matrix(1 0 0 1.04 635.60 315.25)" style="font-family:'Liberation Serif',serif;font-size:10.4px" fill="#2a2a2a" stroke="#2a2a2a" stroke-width="0.08">W-WGS</text>
<line x1="609.3" y1="324.40" x2="633" y2="324.40" stroke="#d02a2a" stroke-width="1.4"/>
<text transform="matrix(1 0 0 1.04 635.60 327.90)" style="font-family:'Liberation Serif',serif;font-size:10.4px" fill="#2a2a2a" stroke="#2a2a2a" stroke-width="0.08">U-WGS</text>
</g>
<text x="1.3" y="19" style="font-family:'Liberation Sans',sans-serif;font-size:21px;font-weight:bold;font-style:italic" fill="#000">a</text>
<text x="344.2" y="20" style="font-family:'Liberation Sans',sans-serif;font-size:19.3px;font-weight:bold;font-style:italic" fill="#000">b</text>
<text x="0.4" y="265.6" style="font-family:'Liberation Sans',sans-serif;font-size:20.5px;font-weight:bold;font-style:italic" fill="#000">c</text>
<text x="343.6" y="266.3" style="font-family:'Liberation Sans',sans-serif;font-size:20px;font-weight:bold;font-style:italic" fill="#000">d</text>
</svg></body></html>
